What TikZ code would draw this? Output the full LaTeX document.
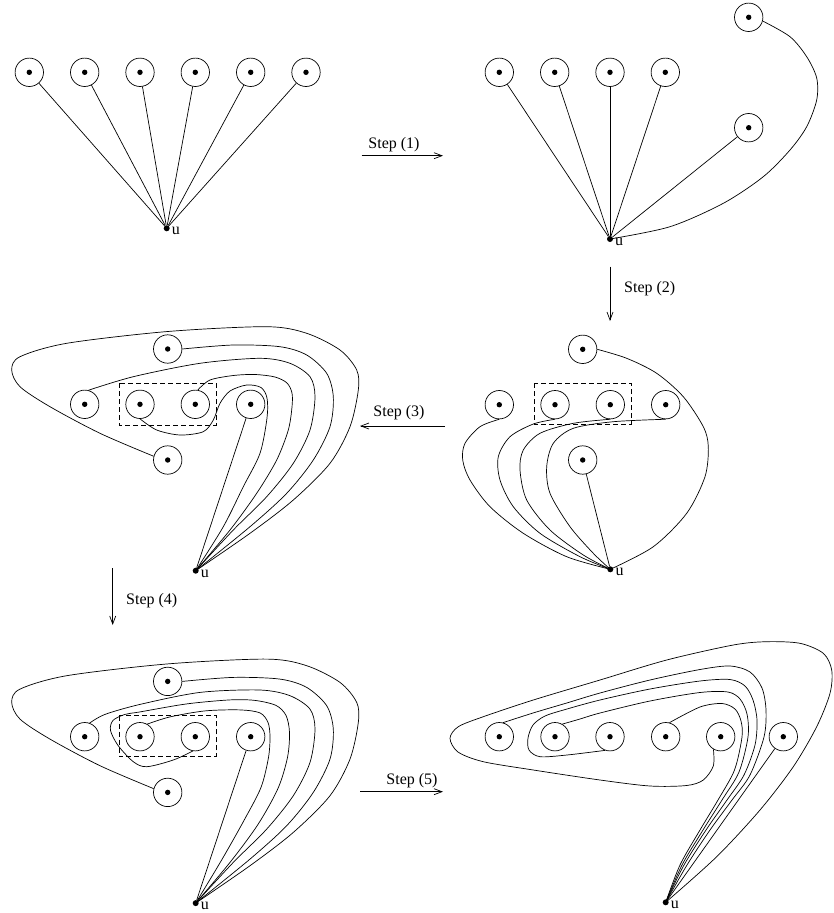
\documentclass[tikz,border=0pt]{standalone}
\usepackage{fontspec}
\setmainfont{Liberation Serif}
\usetikzlibrary{arrows.meta}
\begin{document}
\begin{tikzpicture}[x=1pt,y=-1pt,
  vert/.style={circle,draw,line width=0.7pt,minimum size=28.4pt,inner sep=0pt,
     path picture={\fill (path picture bounding box.center) circle (2.7pt);}},
  udot/.style={circle,fill,minimum size=6pt,inner sep=0pt},
  ulab/.style={anchor=base west,inner sep=0pt,font=\fontsize{16}{19}\selectfont},
  edge/.style={line width=0.7pt},
  grp/.style={draw,dash pattern=on 5pt off 3pt,line width=0.7pt},
  steparrow/.style={line width=0.7pt,-{Straight Barb[length=8pt,width=6pt]}},
  steplab/.style={font=\fontsize{16}{19}\selectfont,inner sep=0pt}
]
\useasboundingbox (0,0) rectangle (833,913);

% ---------- Panel 1 ----------
\node[vert] (a1) at (29.3,72.3) {};
\node[vert] (a2) at (84.7,72.3) {};
\node[vert] (a3) at (140,72.3) {};
\node[vert] (a4) at (195.3,72.3) {};
\node[vert] (a5) at (250.7,72.3) {};
\node[vert] (a6) at (306,72.3) {};
\node[udot] (u1) at (166.7,228.3) {};
\node[ulab] (u1l) at ([shift={(5,6.5)}]u1.center) {u};
\foreach \n in {a1,a2,a3,a4,a5,a6} \draw[edge] (\n) -- (u1);

% ---------- Panel 2 ----------
\node[vert] (b1) at (499.3,72.3) {};
\node[vert] (b2) at (554.7,72.3) {};
\node[vert] (b3) at (610,72.3) {};
\node[vert] (b4) at (665.3,72.3) {};
\node[vert] (b5) at (748.7,127.7) {};
\node[vert] (b6) at (748.7,17.3) {};
\node[udot] (u2) at (610,239) {};
\node[ulab] (u2l) at ([shift={(5,6.5)}]u2.center) {u};
\foreach \n in {b1,b2,b3,b4,b5} \draw[edge] (\n) -- (u2);
\draw[edge] plot[smooth] coordinates {(b6.-15) (790,36.7) (806.7,56.7) (816.7,78) (816.7,100) (806.7,126.7) (790,150) (763.3,176.7) (723.3,203.3) (670,226.7) (u2.center)};

% ---------- Panel 3 ----------
\node[vert] (c0) at (582.7,349.3) {};
\node[vert] (c1) at (499.3,404.7) {};
\node[vert] (c2) at (555,404.7) {};
\node[vert] (c3) at (610.3,404.7) {};
\node[vert] (c4) at (665.7,404.7) {};
\node[vert] (c5) at (582.7,460) {};
\node[udot] (u3) at (610.3,569.3) {};
\node[ulab] (u3l) at ([shift={(5,6.5)}]u3.center) {u};
\draw[grp] (534.3,383.3) rectangle (631,424.3);
\draw[edge] (c5) -- (u3);
\draw[edge] plot[smooth] coordinates {(c0.east) (626.7,358.3) (656.7,373.3) (683.3,396.7) (703.3,426.7) (708.3,446.7) (705,476.7) (686.7,513.3) (653.3,546.7) (u3.center)};
\draw[edge] plot[smooth] coordinates {(c1.south) (480,426.7) (465,443.3) (462.7,460) (470,480) (490,506.7) (523.3,533.3) (566.7,556.7) (u3.center)};
\draw[edge] plot[smooth] coordinates {(c2.south) (533.3,424) (510,436.7) (498.3,456.7) (500,480) (513.3,506.7) (540,533.3) (580,556.7) (u3.center)};
\draw[edge] plot[smooth] coordinates {(c3.south) (573.3,423.3) (540,433.3) (523.3,450) (520,470) (526.7,500) (550,530) (583.3,555) (u3.center)};
\draw[edge] plot[smooth] coordinates {(c4.south) (613.3,421.7) (573.3,428.3) (553.3,443.3) (546.7,466.7) (550,493.3) (570,526.7) (593.3,553.3) (u3.center)};

% ---------- Panel 4 ----------
\node[vert] (d0) at (167.7,349) {};
\node[vert] (d1) at (84.7,404.3) {};
\node[vert] (d2) at (140,404.3) {};
\node[vert] (d3) at (195.3,404.3) {};
\node[vert] (d4) at (250.7,404.3) {};
\node[vert] (d5) at (167.7,460) {};
\node[udot] (u4) at (195.7,570.7) {};
\node[ulab] (u4l) at ([shift={(5,6.5)}]u4.center) {u};
\draw[grp] (119.3,383.3) rectangle (216,425.3);
\draw[edge] (d4) -- (u4);
\draw[edge] plot[smooth] coordinates {(d5.165) (100,433.3) (50,406.7) (20,386.7) (11.7,370) (20,356.7) (66.7,343.3) (167.7,331.5) (266.7,326.7) (306.7,333.3) (340,350) (356.7,370) (358.3,390) (350,426.7) (330,463.3) (293.3,500) (250,533.3) (u4.center)};
\draw[edge] plot[smooth] coordinates {(d0.east) (233.3,345) (280,346.7) (306.7,355) (326.7,373.3) (333.3,396.7) (330,426.7) (313.3,460) (286.7,493.3) (250,526.7) (u4.center)};
\draw[edge] plot[smooth] coordinates {(d1.75) (133.3,376.7) (200,363.3) (260,358.3) (290,363.3) (310,376.7) (315,396.7) (310,430) (293.3,463.3) (266.7,496.7) (233.3,530) (u4.center)};
\draw[edge] plot[smooth] coordinates {(d3.80) (210,380) (233.3,375.5) (255,374.5) (275,377) (287,383) (292,393) (292,407) (288.3,430) (276.7,460) (256.7,493.3) (230,530) (u4.center)};
\draw[edge] plot[smooth] coordinates {(d2.south) (156.7,430) (180,435) (203.3,431.7) (213.3,420) (220,403.3) (230,391) (246.7,385) (261,387.5) (267,398) (267,418) (260,453.3) (243.3,486.7) (223.3,526.7) (u4.center)};

% ---------- Panel 5 ----------
\begin{scope}[shift={(0,332.4)}]
\node[vert] (e0) at (167.7,349) {};
\node[vert] (e1) at (84.7,404.3) {};
\node[vert] (e2) at (140,404.3) {};
\node[vert] (e3) at (195.3,404.3) {};
\node[vert] (e4) at (250.7,404.3) {};
\node[vert] (e5) at (167.7,460) {};
\node[udot] (u5) at (195.7,570.7) {};
\node[ulab] (u5l) at ([shift={(5,6.5)}]u5.center) {u};
\draw[grp] (119.3,383.3) rectangle (216,424.3);
\draw[edge] (e4) -- (u5);
\draw[edge] plot[smooth] coordinates {(e5.165) (100,433.3) (50,406.7) (20,386.7) (11.7,370) (20,356.7) (66.7,343.3) (167.7,331.5) (266.7,326.7) (306.7,333.3) (340,350) (356.7,370) (358.3,390) (350,426.7) (330,463.3) (293.3,500) (250,533.3) (u5.center)};
\draw[edge] plot[smooth] coordinates {(e0.east) (233.3,345) (280,346.7) (306.7,355) (326.7,373.3) (333.3,396.7) (330,426.7) (313.3,460) (286.7,493.3) (250,526.7) (u5.center)};
\draw[edge] plot[smooth] coordinates {(e1.70) (105,382) (140,372) (200,360) (260,357.6) (290,363.3) (310,376.7) (315,396.7) (310,430) (293.3,463.3) (266.7,496.7) (233.3,530) (u5.center)};
\draw[edge] plot[smooth] coordinates {(e3.-100) (173.3,427.6) (146.7,434.3) (133.3,429.3) (118,413) (110.5,398) (113,388) (125,382) (140,379.5) (186.7,371.5) (230,367.5) (255,368) (276,373) (286,383) (289.5,400) (287.5,425) (278,456) (258,492) (230,530) (u5.center)};
\draw[edge] plot[smooth] coordinates {(e2.60) (170,384.5) (205,378.5) (240,377.5) (260,380.5) (268,390) (270,404) (268.5,425) (261,455) (244,488) (222,527) (u5.center)};
\end{scope}

% ---------- Panel 6 ----------
\node[vert] (f1) at (499.3,736.7) {};
\node[vert] (f2) at (555,736.7) {};
\node[vert] (f3) at (610,736.7) {};
\node[vert] (f4) at (665.7,736.7) {};
\node[vert] (f5) at (720.7,736.7) {};
\node[vert] (f6) at (783.3,736.7) {};
\node[udot] (u6) at (665.7,902.3) {};
\node[ulab] (u6l) at ([shift={(5,6.5)}]u6.center) {u};
\draw[edge] (f6) -- (u6);
\draw[edge] plot[smooth] coordinates {(f5.-120) (713.3,766) (703.3,780) (686.7,785.5) (650,786) (600,780) (533.3,770) (483.3,761.7) (458,752) (450,738.3) (458.3,726.7) (483.3,716.7) (533.3,700) (600,680) (666.7,660) (733.3,645) (766.7,641.7) (800,643.3) (823.3,653.3) (831.7,670) (830,693.3) (816.7,726.7) (793.3,766.7) (760,810) (716.7,856.7) (u6.center)};
\draw[edge] plot[smooth] coordinates {(f1.75) (533,713) (566.7,703) (600,693) (650,680) (700,669.5) (730,666) (750,672) (762,688) (766,710) (764,737) (750,775) (732,800) (710,830) (687,865) (u6.center)};
\draw[edge] plot[smooth] coordinates {(f3.-110) (567,755) (540,756.7) (529,750) (528,738) (533,725) (545,716) (567,709) (600,700) (650,689) (700,681) (730,679.5) (745,686) (753,700) (757,720) (755,745) (744,775) (727,800) (706,830) (684,865) (u6.center)};
\draw[edge] plot[smooth] coordinates {(f2.60) (580,719) (600,713) (650,701) (700,692.5) (728,692) (740,699) (747,714) (748,737) (739,772) (722,800) (703,830) (682,865) (u6.center)};
\draw[edge] plot[smooth] coordinates {(f4.75) (700,707) (722,703.5) (735,709) (741,721) (742,737) (734.5,770) (718,800) (700,830) (680,865) (u6.center)};

% ---------- Step arrows ----------
\coordinate (s1a) at (361.7,155.7); \coordinate (s1b) at (443,155.7);
\draw[steparrow] (s1a) -- (s1b);
\node[steplab] (s1l) at (394,145) {Step (1)};

\coordinate (s2a) at (610,266.7); \coordinate (s2b) at (610,321);
\draw[steparrow] (s2a) -- (s2b);
\node[steplab,anchor=west] (s2l) at (624,288.3) {Step (2)};

\coordinate (s3a) at (445,426); \coordinate (s3b) at (360,426);
\draw[steparrow] (s3a) -- (s3b);
\node[steplab] (s3l) at (399,413) {Step (3)};

\coordinate (s4a) at (112.7,568); \coordinate (s4b) at (112.7,625);
\draw[steparrow] (s4a) -- (s4b);
\node[steplab,anchor=west] (s4l) at (126,600.7) {Step (4)};

\coordinate (s5a) at (360,791.7); \coordinate (s5b) at (443,791.7);
\draw[steparrow] (s5a) -- (s5b);
\node[steplab] (s5l) at (412,781) {Step (5)};
\end{tikzpicture}
\end{document}
